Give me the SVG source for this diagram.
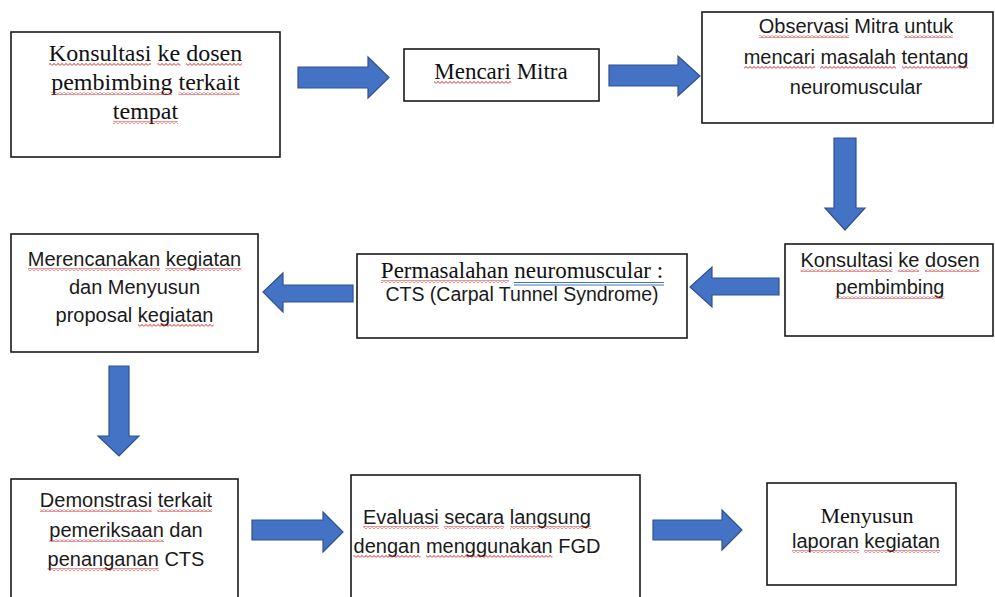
<svg xmlns="http://www.w3.org/2000/svg" width="995" height="597" viewBox="0 0 995 597">
<defs>
<pattern id="sq" patternUnits="userSpaceOnUse" width="4" height="3">
<polyline points="0,2.6 2,0.4 4,2.6" fill="none" stroke="#d62828" stroke-width="1"/>
</pattern>
</defs>
<style>
.box{fill:#fff;stroke:#1a1a1a;stroke-width:1.6}
.arr{fill:#4472C4;stroke:#2F528F;stroke-width:1.2;stroke-linejoin:miter}
.serif{font-family:"Liberation Serif","Times New Roman",serif;fill:#111}
.sans{font-family:"Liberation Sans",Arial,sans-serif;fill:#1a1a1a;font-size:20px}
.w{fill:url(#sq)}
.dbl{stroke:#4472C4;stroke-width:1}
</style>
<rect width="995" height="597" fill="#fff"/>
<g id="connectors">
<polygon class="arr" points="298,67 368,67 368,57 389,77.5 368,98 368,88 298,88"/>
<polygon class="arr" points="609,65 678,65 678,56 700,76 678,96 678,86 609,86"/>
<polygon class="arr" points="834,138 856,138 856,208 865,208 845,230 825,208 834,208"/>
<polygon class="arr" points="779,278 712,278 712,267 690,287 712,307 712,295 779,295"/>
<polygon class="arr" points="353,285 283,285 283,273 263,292 283,312 283,302 353,302"/>
<polygon class="arr" points="109,366 129,366 129,436 139,436 119,456 98,436 109,436"/>
<polygon class="arr" points="252,520 323,520 323,512 343,532 323,552 323,540 252,540"/>
<polygon class="arr" points="653,520 722,520 722,510 742,530 722,550 722,540 653,540"/>
</g>
<g id="n1">
<rect class="box" x="11" y="32" width="269" height="125"/>
<text class="serif" font-size="24" text-anchor="middle"><tspan x="145.5" y="61"><tspan>Konsultasi</tspan> <tspan>ke</tspan> <tspan>dosen</tspan></tspan><tspan x="145.5" y="90"><tspan>pembimbing</tspan> <tspan>terkait</tspan></tspan><tspan x="145.5" y="119"><tspan>tempat</tspan></tspan></text>
<rect class="w" x="49" y="63" width="102" height="3"/>
<rect class="w" x="157.5" y="63" width="23" height="3"/>
<rect class="w" x="186" y="63" width="56" height="3"/>
<rect class="w" x="51" y="92" width="121" height="3"/>
<rect class="w" x="178.5" y="92" width="61" height="3"/>
<rect class="w" x="113" y="121" width="65" height="3"/>
</g>
<g id="n2">
<rect class="box" x="404" y="49" width="195" height="52"/>
<text class="serif" font-size="23" text-anchor="middle" x="501" y="79"><tspan>Mencari</tspan> Mitra</text>
<rect class="w" x="434" y="81" width="77" height="3"/>
</g>
<g id="n3">
<rect class="box" x="702" y="12" width="291" height="111"/>
<text class="sans" text-anchor="middle"><tspan x="856" y="33"><tspan>Observasi</tspan> Mitra <tspan>untuk</tspan></tspan><tspan x="856" y="64"><tspan>mencari</tspan> <tspan>masalah</tspan> <tspan>tentang</tspan></tspan><tspan x="856" y="94">neuromuscular</tspan></text>
<rect class="w" x="759" y="35" width="90" height="3"/>
<rect class="w" x="904" y="35" width="49" height="3"/>
<rect class="w" x="744" y="66" width="71" height="3"/>
<rect class="w" x="820" y="66" width="76" height="3"/>
<rect class="w" x="902" y="66" width="66" height="3"/>
</g>
<g id="n4">
<rect class="box" x="785" y="244" width="208" height="92"/>
<text class="sans" text-anchor="middle"><tspan x="890" y="267"><tspan>Konsultasi</tspan> <tspan>ke</tspan> <tspan>dosen</tspan></tspan><tspan x="890" y="294"><tspan>pembimbing</tspan></tspan></text>
<rect class="w" x="800.5" y="269" width="92" height="3"/>
<rect class="w" x="898" y="269" width="21" height="3"/>
<rect class="w" x="925" y="269" width="54.5" height="3"/>
<rect class="w" x="835.5" y="296" width="109" height="3"/>
</g>
<g id="n5">
<rect class="box" x="357" y="254" width="330" height="84"/>
<text class="serif" font-size="23" text-anchor="middle" x="522" y="278"><tspan>Permasalahan</tspan> <tspan>neuromuscular :</tspan></text>
<rect class="w" x="381" y="280" width="128" height="3"/>
<line class="dbl" x1="514" y1="282.5" x2="664" y2="282.5"/>
<line class="dbl" x1="514" y1="285" x2="664" y2="285"/>
<text class="sans" text-anchor="middle" x="522" y="301" style="font-size:19.5px">CTS (Carpal Tunnel Syndrome)</text>
</g>
<g id="n6">
<rect class="box" x="11" y="234" width="247" height="118"/>
<text class="sans" text-anchor="middle"><tspan x="134.5" y="266"><tspan>Merencanakan</tspan> <tspan>kegiatan</tspan></tspan><tspan x="134.5" y="294">dan Menyusun</tspan><tspan x="134.5" y="322">proposal <tspan>kegiatan</tspan></tspan></text>
<rect class="w" x="28" y="268" width="132" height="3"/>
<rect class="w" x="165.5" y="268" width="76" height="3"/>
<rect class="w" x="138" y="324" width="75.5" height="3"/>
</g>
<g id="n7">
<rect class="box" x="11" y="479" width="227" height="130"/>
<text class="sans" text-anchor="middle"><tspan x="126" y="507"><tspan>Demonstrasi</tspan> <tspan>terkait</tspan></tspan><tspan x="126" y="537"><tspan>pemeriksaan</tspan> dan</tspan><tspan x="126" y="566"><tspan>penanganan</tspan> CTS</tspan></text>
<rect class="w" x="40" y="509" width="112" height="3"/>
<rect class="w" x="157.5" y="509" width="54.5" height="3"/>
<rect class="w" x="49.5" y="539" width="114.5" height="3"/>
<rect class="w" x="47.5" y="568" width="111" height="3"/>
</g>
<g id="n8">
<rect class="box" x="351" y="475" width="289" height="135"/>
<text class="sans" text-anchor="middle"><tspan x="477" y="524"><tspan>Evaluasi</tspan> <tspan>secara</tspan> <tspan>langsung</tspan></tspan><tspan x="477" y="553"><tspan>dengan</tspan> <tspan>menggunakan</tspan> FGD</tspan></text>
<rect class="w" x="363" y="526" width="75.5" height="3"/>
<rect class="w" x="444" y="526" width="60" height="3"/>
<rect class="w" x="510" y="526" width="81" height="3"/>
<rect class="w" x="353.5" y="555" width="67" height="3"/>
<rect class="w" x="426" y="555" width="126.5" height="3"/>
</g>
<g id="n9">
<rect class="box" x="767" y="483" width="189" height="102"/>
<text class="serif" font-size="22" text-anchor="middle" x="867" y="523">Menyusun</text>
<text class="sans" text-anchor="middle" x="866" y="548"><tspan>laporan</tspan> <tspan>kegiatan</tspan></text>
<rect class="w" x="792" y="550" width="67" height="3"/>
<rect class="w" x="864" y="550" width="76" height="3"/>
</g>
</svg>
